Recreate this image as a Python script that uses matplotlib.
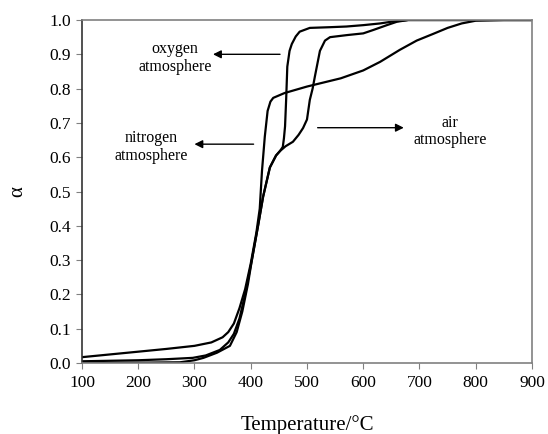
import numpy as np
import matplotlib.pyplot as plt

plt.rcParams['font.family'] = ['Liberation Serif', 'DejaVu Serif']

# nitrogen atmosphere
t_n = [100, 150, 200, 250, 300, 330, 350, 360, 370, 380, 390, 400, 410, 416, 420, 425, 430, 435,
       440, 460, 500, 530, 560, 600, 630, 665, 695, 725, 750, 775, 800, 850, 900]
a_n = [0.017, 0.025, 0.033, 0.041, 0.05, 0.06, 0.075, 0.09, 0.115, 0.16, 0.215, 0.29, 0.38, 0.45,
       0.56, 0.66, 0.735, 0.762, 0.773, 0.787, 0.806, 0.818, 0.83, 0.853, 0.878, 0.913, 0.94, 0.96,
       0.977, 0.99, 0.998, 1.0, 1.0]

# oxygen atmosphere
t_o = [100, 200, 274, 300, 316, 340, 363, 375, 385, 395, 402, 413, 422, 434, 445, 452, 457,
       459, 461, 463, 465, 469, 473, 480, 487, 505, 540, 570, 600, 630, 650, 680, 750, 900]
a_o = [0.0, 0.001, 0.002, 0.008, 0.015, 0.03, 0.05, 0.09, 0.15, 0.23, 0.3, 0.4, 0.485, 0.57, 0.605,
       0.618, 0.63, 0.655, 0.69, 0.77, 0.864, 0.91, 0.93, 0.952, 0.966, 0.977, 0.979, 0.981, 0.985,
       0.99, 0.995, 1.0, 1.0, 1.0]

# air atmosphere
t_a = [100, 200, 250, 297, 320, 345, 360, 370, 380, 390, 402, 413, 422, 434, 445, 452, 462, 475,
       485, 493, 500, 505, 510, 514, 523, 532, 541, 571, 600, 618, 642, 660, 680, 750, 900]
a_a = [0.005, 0.008, 0.011, 0.015, 0.022, 0.038, 0.06, 0.085, 0.13, 0.2, 0.3, 0.4, 0.485, 0.57,
       0.605, 0.618, 0.632, 0.645, 0.665, 0.685, 0.71, 0.767, 0.8, 0.835, 0.91, 0.94, 0.95, 0.956,
       0.961, 0.971, 0.985, 0.995, 1.0, 1.0, 1.0]

fig = plt.figure(figsize=(5.48, 4.34), dpi=100)
ax = fig.add_axes([0.1496, 0.1636, 0.8212, 0.7903])

for t, a in [(t_n, a_n), (t_o, a_o), (t_a, a_a)]:
    ax.plot(t, a, color='black', lw=1.6, solid_joinstyle='round')

ax.set_xlim(100, 900)
ax.set_ylim(0, 1.0)
ax.set_xticks(np.arange(100, 901, 100))
ax.set_yticks(np.arange(0, 1.01, 0.1))
ax.set_yticklabels(['%.1f' % v for v in np.arange(0, 1.01, 0.1)])
ax.tick_params(direction='out', length=4, labelsize=12.5, color='#808080')
ax.tick_params(axis='x', pad=5)
ax.tick_params(axis='y', pad=4)

for s in ['top', 'right', 'bottom']:
    ax.spines[s].set_color('#808080')
ax.spines['left'].set_color('#333333')
for s in ax.spines.values():
    s.set_linewidth(1.2)

ax.set_xlabel('Temperature/°C', fontsize=15, labelpad=17)
ax.set_ylabel('α', fontsize=15, labelpad=16)

arrow = dict(arrowstyle='-|>', color='black', lw=1.0, mutation_scale=12)
ax.annotate('', xy=(328, 0.9), xytext=(457, 0.9), arrowprops=arrow)
ax.annotate('', xy=(295, 0.638), xytext=(410, 0.638), arrowprops=arrow)
ax.annotate('', xy=(677, 0.686), xytext=(514, 0.686), arrowprops=arrow)

ax.text(265, 0.889, 'oxygen\natmosphere', ha='center', va='center', fontsize=11.5, linespacing=1.1)
ax.text(223, 0.63, 'nitrogen\natmosphere', ha='center', va='center', fontsize=11.5, linespacing=1.1)
ax.text(754, 0.676, 'air\natmosphere', ha='center', va='center', fontsize=11.5, linespacing=1.1)

fig.savefig('out.png', dpi=100)
